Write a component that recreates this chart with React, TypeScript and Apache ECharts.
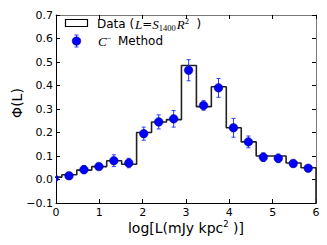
import React, { useEffect, useRef } from "react";
import * as echarts from "echarts";

const binEdges = [-0.21, 0.135, 0.48, 0.825, 1.17, 1.515, 1.86, 2.205, 2.55, 2.895, 3.24, 3.585, 3.93, 4.275, 4.62, 4.965, 5.31, 5.655, 6.0];
const binValues = [0.01, 0.02, 0.04, 0.055, 0.08, 0.065, 0.2, 0.245, 0.255, 0.485, 0.31, 0.395, 0.22, 0.16, 0.1, 0.1, 0.07, 0.05];
const pointX = [-0.045, 0.3, 0.645, 0.99, 1.335, 1.68, 2.025, 2.37, 2.715, 3.06, 3.405, 3.75, 4.095, 4.44, 4.785, 5.13, 5.475, 5.82];
const pointY = [0.005, 0.016, 0.042, 0.055, 0.08, 0.07, 0.195, 0.245, 0.258, 0.465, 0.315, 0.39, 0.22, 0.16, 0.095, 0.09, 0.068, 0.048];
const pointErr = [0.005, 0.008, 0.017, 0.012, 0.025, 0.02, 0.028, 0.03, 0.035, 0.045, 0.02, 0.04, 0.04, 0.025, 0.018, 0.018, 0.015, 0.012];
const xRange = [0, 6, 1];
const yRange = [-0.1, 0.7, 0.1];

const FONT = "DejaVu Sans";
const MATH = "Liberation Serif";

export default function App() {
  const ref = useRef<HTMLDivElement>(null);
  useEffect(() => {
    if (!ref.current) return;
    const chart = echarts.init(ref.current, null, { renderer: "svg" });
    const hist: number[][] = [[binEdges[0], yRange[0] - 0.1]];
    binValues.forEach((v, i) => {
      hist.push([binEdges[i], v]);
      hist.push([binEdges[i + 1], v]);
    });
    hist.push([binEdges[binEdges.length - 1], yRange[0] - 0.1]);
    const pts = pointX.map((x, i) => [x, pointY[i], pointErr[i]]);
    const fmtY = (v: number) => v.toFixed(1).replace("-", "\u2212");
    const baseX = {
      type: "value" as const,
      min: xRange[0],
      max: xRange[1],
      interval: xRange[2],
      splitLine: { show: false },
      axisTick: { show: true, inside: true, length: 4, lineStyle: { color: "#000" } },
    };
    const baseY = {
      type: "value" as const,
      min: yRange[0],
      max: yRange[1],
      interval: yRange[2],
      splitLine: { show: false },
      axisTick: { show: true, inside: true, length: 4, lineStyle: { color: "#000" } },
    };
    const it = { fontFamily: MATH, fontStyle: "italic", fontSize: 13, fill: "#000", lineHeight: 16, verticalAlign: "middle" };
    const n = { fontFamily: FONT, fontSize: 12, fill: "#000", lineHeight: 16, verticalAlign: "middle" };
    chart.setOption({
      animation: false,
      grid: { left: 56, right: 11, top: 15, bottom: 42 },
      xAxis: [
        {
          ...baseX,
          position: "bottom",
          axisLine: { onZero: false, lineStyle: { color: "#000", width: 1 } },
          axisLabel: { color: "#000", fontFamily: FONT, fontSize: 11, margin: 4 },
        },
        {
          ...baseX,
          position: "top",
          axisLine: { onZero: false, lineStyle: { color: "#777", width: 1 } },
          axisLabel: { show: false },
        },
      ],
      yAxis: [
        {
          ...baseY,
          position: "left",
          axisLine: { onZero: false, lineStyle: { color: "#000", width: 1 } },
          axisLabel: { color: "#000", fontFamily: FONT, fontSize: 11, margin: 3, formatter: fmtY },
        },
        {
          ...baseY,
          position: "right",
          axisLine: { onZero: false, lineStyle: { color: "#777", width: 1 } },
          axisLabel: { show: false },
        },
      ],
      series: [
        {
          type: "line",
          data: hist,
          showSymbol: false,
          symbol: "none",
          clip: true,
          lineStyle: { color: "#222", width: 1.6 },
          z: 2,
        },
        {
          type: "custom",
          data: pts,
          clip: true,
          encode: { x: 0, y: 1 },
          z: 3,
          renderItem: (params: any, api: any) => {
            const x = api.value(0);
            const y = api.value(1);
            const e = api.value(2);
            const c = api.coord([x, y]);
            const t = api.coord([x, y + e]);
            const b = api.coord([x, y - e]);
            const cap = 2;
            const st = { stroke: "#2a3cff", lineWidth: 1 };
            return {
              type: "group",
              children: [
                { type: "line", shape: { x1: c[0], y1: t[1], x2: c[0], y2: b[1] }, style: st },
                { type: "line", shape: { x1: c[0] - cap, y1: t[1], x2: c[0] + cap, y2: t[1] }, style: st },
                { type: "line", shape: { x1: c[0] - cap, y1: b[1], x2: c[0] + cap, y2: b[1] }, style: st },
                { type: "circle", shape: { cx: c[0], cy: c[1], r: 4.3 }, style: { fill: "#0000ff", stroke: "#00006a", lineWidth: 0.5 } },
              ],
            };
          },
        },
      ],
      graphic: [
        { type: "rect", shape: { x: 65.5, y: 19.5, width: 22, height: 7 }, style: { fill: "#fff", stroke: "#000", lineWidth: 1.2 } },
        {
          type: "text",
          x: 97,
          y: 24,
          style: { text: "Data (", fontFamily: FONT, fontSize: 12, fill: "#000", align: "left", verticalAlign: "middle" },
        },
        {
          type: "text",
          x: 135,
          y: 24,
          style: {
            text: "{it|L}{n|=}{it|S}{sub|1400}{it|R}{sup|2}{n|  )}",
            align: "left",
            verticalAlign: "middle",
            rich: {
              it,
              n,
              sub: { fontFamily: MATH, fontSize: 8.5, fill: "#000", lineHeight: 16, verticalAlign: "bottom", padding: [0, 1, 0, 0] },
              sup: { fontFamily: MATH, fontSize: 8.5, fill: "#000", lineHeight: 16, verticalAlign: "top" },
            },
          },
        },
        { type: "line", shape: { x1: 76.5, y1: 35, x2: 76.5, y2: 47 }, style: { stroke: "#2a3cff", lineWidth: 1 } },
        { type: "line", shape: { x1: 74.5, y1: 35, x2: 78.5, y2: 35 }, style: { stroke: "#2a3cff", lineWidth: 1 } },
        { type: "line", shape: { x1: 74.5, y1: 47, x2: 78.5, y2: 47 }, style: { stroke: "#2a3cff", lineWidth: 1 } },
        { type: "circle", shape: { cx: 76.5, cy: 41, r: 4.3 }, style: { fill: "#0000ff", stroke: "#00006a", lineWidth: 0.5 } },
        {
          type: "text",
          x: 98,
          y: 41,
          style: {
            text: "{it|C}{sup|\u2212}",
            align: "left",
            verticalAlign: "middle",
            rich: {
              it,
              sup: { fontFamily: MATH, fontSize: 8.5, fill: "#000", lineHeight: 16, verticalAlign: "top" },
            },
          },
        },
        {
          type: "text",
          x: 118,
          y: 41,
          style: { text: "Method", fontFamily: FONT, fontSize: 12, fill: "#000", align: "left", verticalAlign: "middle" },
        },
        {
          type: "text",
          x: 186,
          y: 228,
          style: {
            text: "{n|log[L(mJy kpc}{sup|2}{n| )]}",
            align: "center",
            verticalAlign: "middle",
            rich: {
              n: { fontFamily: FONT, fontSize: 14, fill: "#000", lineHeight: 18, verticalAlign: "middle" },
              sup: { fontFamily: FONT, fontSize: 8.5, fill: "#000", lineHeight: 18, verticalAlign: "top" },
            },
          },
        },
        {
          type: "text",
          x: 17,
          y: 103,
          rotation: Math.PI / 2,
          style: {
            text: "\u03A6(L)",
            fontFamily: FONT,
            fontSize: 14,
            fill: "#000",
            align: "center",
            verticalAlign: "middle",
          },
        },
      ],
    });
    return () => chart.dispose();
  }, []);
  return <div ref={ref} style={{ width: 327, height: 245, position: "absolute", left: 0, top: 0 }} />;
}
